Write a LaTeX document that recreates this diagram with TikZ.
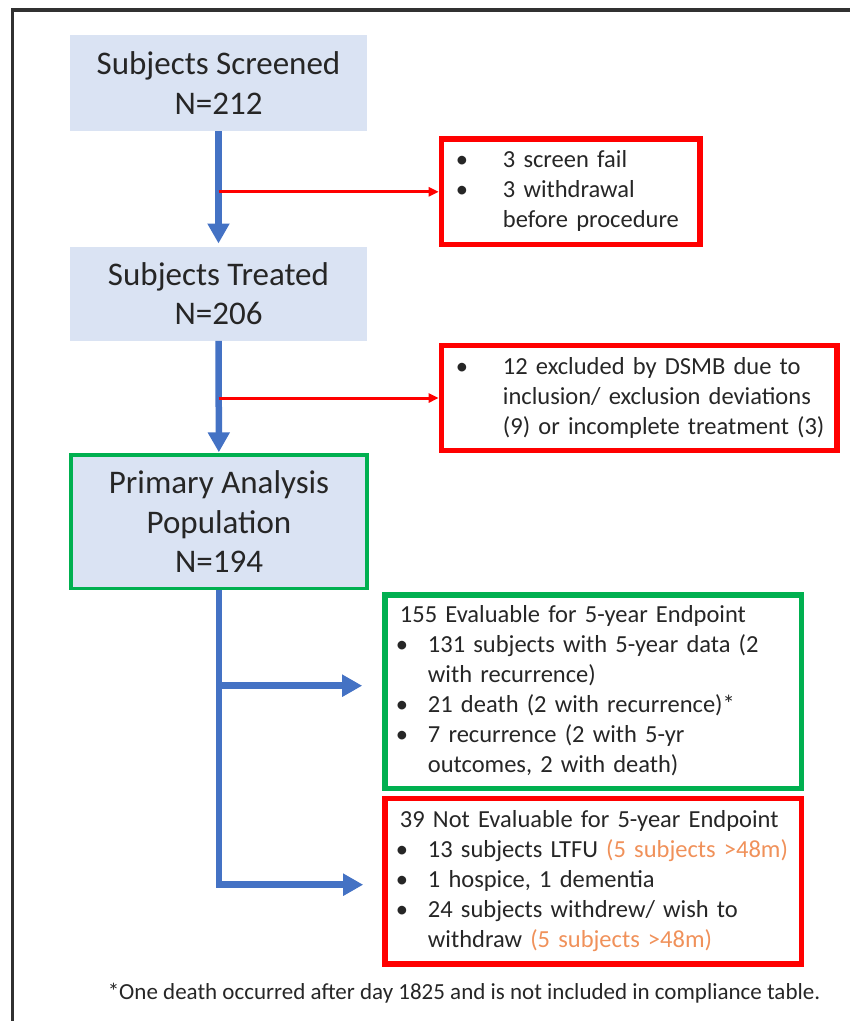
\documentclass[tikz,border=0pt]{standalone}
\usepackage{fontspec}
\setmainfont{Carlito}
\usetikzlibrary{arrows.meta}

\definecolor{stagefill}{HTML}{DAE3F3}
\definecolor{flowblue}{HTML}{4472C4}
\definecolor{exred}{HTML}{FF0000}
\definecolor{okgreen}{HTML}{00B050}
\definecolor{noteorange}{HTML}{F0915A}
\definecolor{ink}{HTML}{262626}

% bullet with hanging gap, and the gap alone for wrapped lines
\newcommand{\bl}[1][28pt]{\makebox[#1][l]{\kern-4pt\textbullet}}
\newcommand{\gap}[1][28pt]{\hspace*{#1}}
\newcommand{\rows}[1]{\noindent\begin{tabular}{@{}l@{}}#1\end{tabular}}
\newcommand{\late}[1]{\textcolor{noteorange}{#1}}

\begin{document}
\begin{tikzpicture}[x=1pt,y=-1pt,
	stage/.style={fill=stagefill,text=ink,align=center,minimum width=297pt,inner sep=0pt,font=\fontsize{33}{39.5}\selectfont},
	outbox/.style={draw=exred,line width=5.5pt,text=ink,inner xsep=18.5pt,inner ysep=0pt,font=\fontsize{24.5}{30}\selectfont},
	keepbox/.style={outbox,draw=okgreen,inner xsep=15pt},
	flow/.style={draw=flowblue,line width=6.5pt,-{Triangle[length=20pt,width=21pt]}},
	drop/.style={draw=exred,line width=3pt,-{Triangle[length=10pt,width=9pt]}}]
\useasboundingbox (0,0) rectangle (850,1021);
\draw[ink!95,line width=3.5pt] (12.5,1021) -- (12.5,10) -- (850,10);

\node[stage,minimum height=96pt] (screened) at (218.5,83) {Subjects Screened\\N=212};
\node[stage,minimum height=94pt] (treated) at (218.5,293.7) {Subjects Treated\\N=206};
\node[stage,draw=okgreen,line width=3.5pt,minimum width=296pt,minimum height=133.5pt] (primary) at (219,521.8) {Primary Analysis\\Population\\N=194};

\node[outbox,minimum width=258.5pt,minimum height=105.7pt,text width=221.5pt] (fail) at (570.7,191.8)
	{\rows{\bl[43pt]3 screen fail\\ \bl[43pt]3 withdrawal\\ \gap[43pt]before procedure}};
\node[outbox,minimum width=395.5pt,minimum height=104.6pt,text width=358.5pt] (excluded) at (639.2,398)
	{\rows{\bl[43pt]12 excluded by DSMB due to\\ \gap[43pt]inclusion/ exclusion deviations\\ \gap[43pt](9) or incomplete treatment (3)}};

\node[keepbox,minimum width=416.7pt,minimum height=193.3pt,text width=386.7pt] (evaluable) at (593.3,691.7)
	{\rows{155 Evaluable for 5-year Endpoint\\
	\bl 131 subjects with 5-year data (2\\ \gap with recurrence)\\
	\bl 21 death (2 with recurrence)*\\
	\bl 7 recurrence (2 with 5-yr\\ \gap outcomes, 2 with death)}};
\node[outbox,minimum width=416.7pt,minimum height=165.7pt,text width=386.7pt,inner xsep=15pt] (noteval) at (593.3,881.2)
	{\rows{39 Not Evaluable for 5-year Endpoint\\
	\bl 13 subjects LTFU \late{(5 subjects >48m)}\\
	\bl 1 hospice, 1 dementia\\
	\bl 24 subjects withdrew/ wish to\\ \gap withdraw \late{(5 subjects >48m)}}};

\node[text=ink,font=\fontsize{23}{27}\selectfont] (footnote) at (464,993) {*One death occurred after day 1825 and is not included in compliance table.};

\draw[flow,shorten >=3pt] (screened) -- (treated);
\draw[drop] (screened.south |- fail.west) -- (fail.west);
\draw[flow,shorten >=1pt] (treated) -- (primary);
\draw[drop] (treated.south |- excluded.west) -- (excluded.west);
\draw[flow,shorten >=19pt] (primary.south) |- ([yshift=-3.5pt]noteval.west);
\draw[flow,shorten >=20pt] (primary.south |- evaluable.west) ++(0,-6) -- ([yshift=6pt]evaluable.west);
\end{tikzpicture}
\end{document}
